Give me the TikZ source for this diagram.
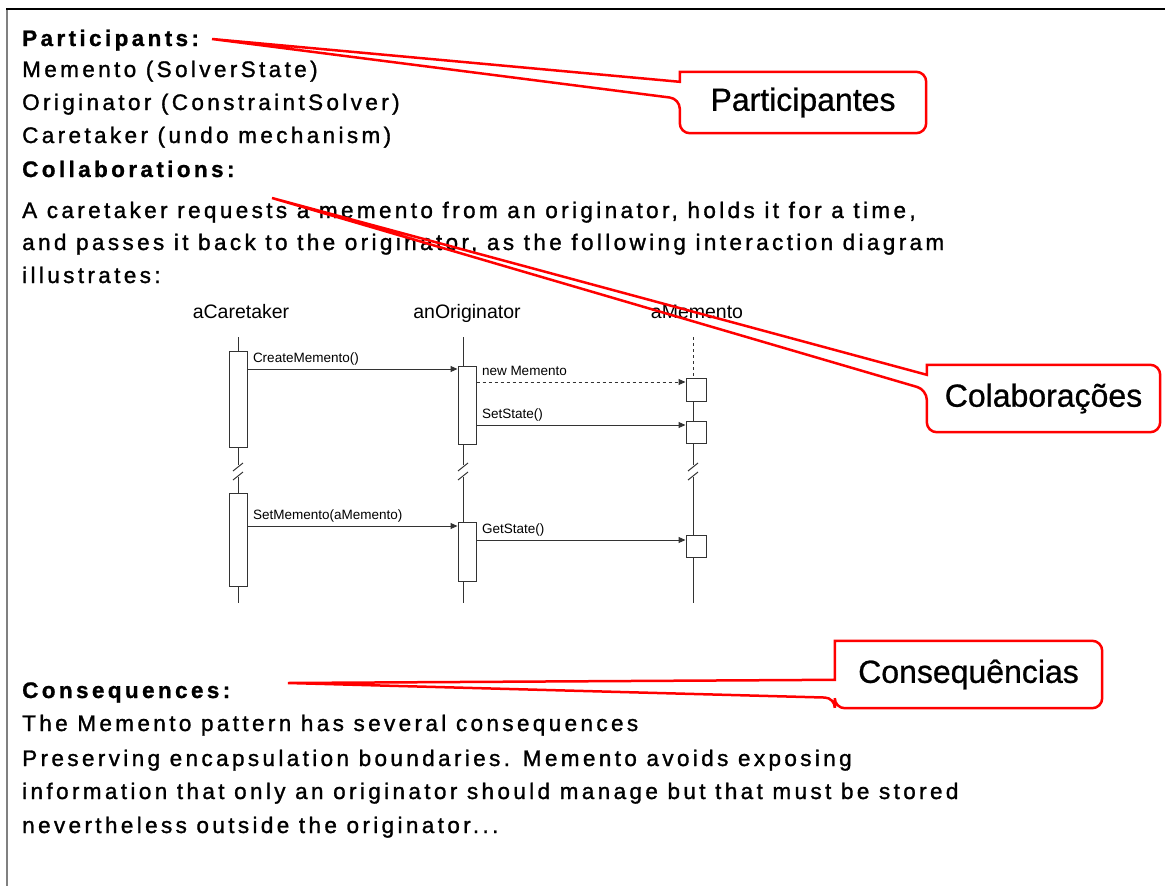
\documentclass[tikz,border=0pt]{standalone}
\usepackage{fontspec}
\setmainfont{Liberation Sans}
\newfontfamily\bodyfont[LetterSpace=15,FakeBold=1.3,BoldFeatures={FakeBold=1}]{Liberation Sans}
\newfontfamily\notefont[FakeBold=0.8]{Liberation Sans}
\usetikzlibrary{arrows.meta,calc}
\tikzset{
	body/.style={anchor=base west,inner sep=0pt,font=\bodyfont\fontsize{22.5}{26}\selectfont},
	head/.style={body,font=\bodyfont\bfseries\fontsize{22.5}{26}\selectfont},
	note/.style={inner sep=0pt,font=\notefont\fontsize{32}{36}\selectfont},
	callout/.style={draw=red,line width=2.5pt,rounded corners=10pt},
	lbl/.style={anchor=base,inner sep=0pt,font=\fontsize{19.5}{22}\selectfont},
	act/.style={draw=black!80,fill=white,line width=1pt,inner sep=0pt,minimum width=18pt},
	life/.style={draw=black!80,line width=1pt},
	msg/.style={draw=black!80,line width=1pt,-{Triangle[length=7pt,width=6pt]}},
	msglbl/.style={anchor=base west,inner sep=0pt,xshift=5pt,yshift=7pt,font=\fontsize{13.5}{16}\selectfont}
}
\newcommand\calloutpath[4]{%
	\draw[callout] (#2) [sharp corners]-- ($(#1.north west)+(0,#3)$) -- (#1.north west) [rounded corners=10pt]-- (#1.north east) -- (#1.south east) -- (#1.south west) -- ($(#1.north west)+(0,#4)$) [sharp corners]-- cycle;}
\newcommand\lifebreak[1]{%
	\draw[life] ($(#1)+(-5,471)$) -- ($(#1)+(5,463)$) ($(#1)+(-5,480)$) -- ($(#1)+(5,472)$);}
\begin{document}
\begin{tikzpicture}[x=1pt,y=-1pt]
	\useasboundingbox (0,0) rectangle (1165,886);
	\draw[black!50,line width=2.5pt] (7,886) -- (7,9);
	\draw[black,line width=1.5pt] (6,9) -- (1165,9);

	\node[head] (parts) at (22,46) {Participants:};
	\node[body] (memtxt) at (22,77) {Memento (SolverState)};
	\node[body] (orgtxt) at (22,110) {Originator (ConstraintSolver)};
	\node[body] (cartxt) at (22,143) {Caretaker (undo mechanism)};
	\node[head] (collabs) at (22,177) {Collaborations:};
	\node[body] (coll1) at (22,218) {A caretaker requests a memento from an originator, holds it for a time,};
	\node[body] (coll2) at (22,250) {and passes it back to the originator, as the following interaction diagram};
	\node[body] (coll3) at (22,283) {illustrates:};
	\node[head] (conseqs) at (22,698) {Consequences:};
	\node[body] (cons1) at (22,731) {The Memento pattern has several consequences};
	\node[body] (cons2) at (22,766) {Preserving encapsulation boundaries. Memento avoids exposing};
	\node[body] (cons3) at (22,799) {information that only an originator should manage but that must be stored};
	\node[body] (cons4) at (22,833) {nevertheless outside the originator...};

	\coordinate (cx) at (238,0);
	\coordinate (ox) at (463,0);
	\coordinate (mx) at (693,0);
	\node[lbl] (caret) at (241,318) {aCaretaker};
	\node[lbl] (origin) at (467,318) {anOriginator};
	\node[lbl] (memento) at (697,318) {aMemento};
	\foreach \l in {cx,ox}{
		\draw[life] ($(\l)+(0,337)$) -- ($(\l)+(0,465)$) ($(\l)+(0,477)$) -- ($(\l)+(0,603)$);
	}
	\draw[life,dashed] ($(mx)+(0,337)$) -- ($(mx)+(0,378)$);
	\draw[life] ($(mx)+(0,378)$) -- ($(mx)+(0,465)$) ($(mx)+(0,477)$) -- ($(mx)+(0,603)$);
	\foreach \l in {cx,ox,mx}{
		\lifebreak{\l}
	}

	\node[act,minimum height=96pt] (cact1) at (238,399) {};
	\node[act,minimum height=93pt] (cact2) at (238,539.5) {};
	\node[act,minimum height=78pt] (oact1) at (467,405) {};
	\node[act,minimum height=59pt] (oact2) at (467,551.5) {};
	\node[act,minimum width=20pt,minimum height=23pt] (mact1) at (696,389.5) {};
	\node[act,minimum width=20pt,minimum height=22pt] (mact2) at (696,432) {};
	\node[act,minimum width=20pt,minimum height=22pt] (mact3) at (696,546) {};

	\draw[msg] (cact1.east |- 0,369) -- node[msglbl,pos=0]{CreateMemento()} (oact1.west |- 0,369);
	\draw[msg,dashed] (oact1.east |- 0,382) -- node[msglbl,pos=0]{new Memento} (mact1.west |- 0,382);
	\draw[msg] (oact1.east |- 0,425) -- node[msglbl,pos=0]{SetState()} (mact2.west |- 0,425);
	\draw[msg] (cact2.east |- 0,526) -- node[msglbl,pos=0]{SetMemento(aMemento)} (oact2.west |- 0,526);
	\draw[msg] (oact2.east |- 0,540) -- node[msglbl,pos=0]{GetState()} (mact3.west |- 0,540);

	\node[note,minimum width=246pt,minimum height=61pt] (partic) at (803,102.5) {Participantes};
	\node[note,minimum width=233pt,minimum height=67pt] (colab) at (1043.5,398.5) {Colaborações};
	\node[note,minimum width=267pt,minimum height=67pt] (conseq) at (968.5,674.5) {Consequências};
	\coordinate (ptip) at (212,39);
	\coordinate (ctip) at (272,198);
	\coordinate (qtip) at (288,683);
	\calloutpath{partic}{ptip}{10}{27}
	\calloutpath{colab}{ctip}{10}{25}
	\calloutpath{conseq}{qtip}{39}{57}
\end{tikzpicture}
\end{document}
